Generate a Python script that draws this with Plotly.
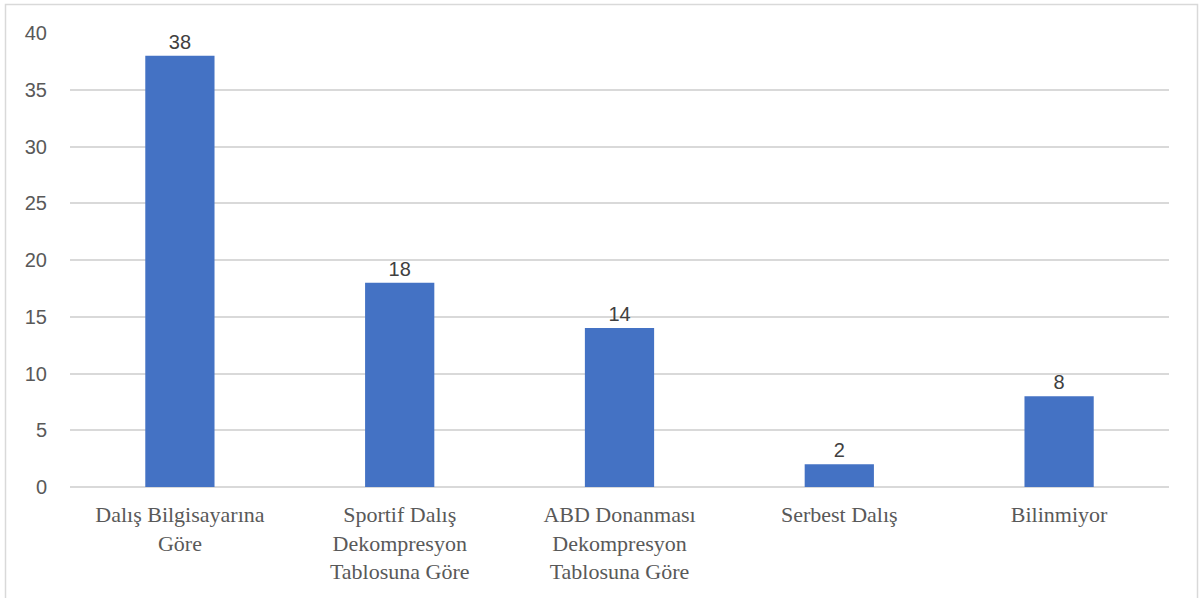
import plotly.graph_objects as go

# Categories (Turkish labels, wrapped onto multiple lines)
categories = [
    "Dalış Bilgisayarına<br>Göre",
    "Sportif Dalış<br>Dekompresyon<br>Tablosuna Göre",
    "ABD Donanması<br>Dekompresyon<br>Tablosuna Göre",
    "Serbest Dalış",
    "Bilinmiyor",
]
values = [38, 18, 14, 2, 8]
y_ticks = [0, 5, 10, 15, 20, 25, 30, 35, 40]

W, H = 1203, 598
L, R, T, B = 70, 34, 33, 111
pw, ph = W - L - R, H - T - B

fig = go.Figure(
    go.Bar(
        x=categories,
        y=values,
        marker=dict(color="#4472C4", line=dict(width=0)),
        width=0.315,
        text=[str(v) for v in values],
        textposition="outside",
        cliponaxis=False,
        textfont=dict(family="Liberation Sans, Arial, sans-serif", size=20, color="#404040"),
    )
)

fig.update_layout(
    width=W,
    height=H,
    margin=dict(l=L, r=R, t=T, b=B),
    paper_bgcolor="white",
    plot_bgcolor="white",
    showlegend=False,
    uniformtext=dict(mode=False),
)

fig.update_xaxes(
    tickfont=dict(family="Liberation Serif, Times New Roman, serif", size=22, color="#595959"),
    showgrid=False,
    showline=False,
    ticks="",
    ticklabelstandoff=12,
)
fig.update_yaxes(
    range=[0, 40],
    tickvals=y_ticks,
    tickfont=dict(family="Liberation Sans, Arial, sans-serif", size=20, color="#595959"),
    showgrid=True,
    gridcolor="#d9d9d9",
    gridwidth=1.5,
    zeroline=True,
    zerolinecolor="#d9d9d9",
    zerolinewidth=1.5,
    showline=False,
    ticks="",
    ticklabelstandoff=22,
)

# Outer frame of the chart area
fig.add_shape(
    type="rect",
    xref="paper",
    yref="paper",
    x0=(5.5 - L) / pw,
    x1=(1197.5 - L) / pw,
    y0=(T + ph - 605) / ph,
    y1=(T + ph - 4.5) / ph,
    line=dict(color="#d9d9d9", width=1.5),
    fillcolor="rgba(0,0,0,0)",
    layer="below",
)

fig.write_html("out.html")
